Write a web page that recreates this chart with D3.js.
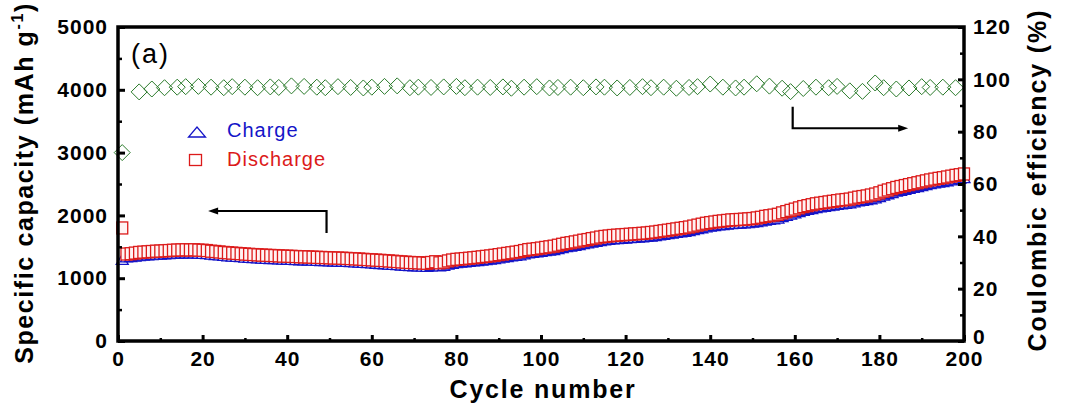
<!DOCTYPE html>
<html><head><meta charset="utf-8">
<script src="https://cdn.jsdelivr.net/npm/d3@7"></script>
<style>body{margin:0;background:#fff} svg{display:block}</style>
</head><body>
<svg id="c" width="1072" height="415"></svg>
<script>
// ---------- DATA ----------
const cycles = d3.range(1, 201);
const discharge = [
1800,1385,1390,1400,1410,1415,1420,1425,1430,1432,
1436,1440,1445,1448,1450,1452,1450,1452,1448,1445,
1440,1430,1425,1418,1410,1405,1400,1395,1390,1385,
1380,1376,1372,1368,1365,1362,1360,1356,1352,1350,
1348,1345,1342,1340,1338,1335,1332,1330,1328,1325,
1322,1320,1318,1315,1312,1308,1305,1300,1296,1292,
1288,1284,1280,1275,1270,1265,1260,1255,1250,1248,
1245,1242,1238,1250,1262,1245,1255,1275,1290,1300,
1305,1312,1318,1325,1332,1340,1348,1355,1365,1375,
1385,1395,1405,1415,1425,1440,1455,1462,1470,1480,
1490,1500,1510,1525,1540,1555,1565,1578,1590,1605,
1615,1630,1640,1655,1665,1672,1680,1685,1690,1695,
1700,1705,1710,1715,1720,1728,1735,1745,1755,1765,
1775,1785,1795,1805,1815,1830,1845,1860,1875,1885,
1895,1905,1912,1920,1928,1932,1935,1940,1945,1950,
1960,1970,1985,1995,2005,2018,2040,2060,2080,2100,
2120,2140,2155,2170,2185,2195,2205,2215,2225,2235,
2245,2252,2260,2275,2290,2300,2310,2325,2340,2360,
2385,2405,2425,2445,2460,2475,2490,2505,2520,2535,
2550,2565,2578,2590,2600,2612,2625,2638,2648,2660];
const charge = [
1300,1340,1342,1352,1360,1366,1370,1376,1380,1383,
1387,1391,1396,1399,1401,1403,1402,1403,1400,1396,
1392,1383,1377,1370,1362,1357,1352,1347,1342,1337,
1332,1328,1324,1320,1317,1314,1312,1308,1304,1302,
1300,1297,1294,1292,1290,1287,1284,1282,1280,1277,
1274,1272,1270,1267,1263,1259,1256,1251,1247,1243,
1238,1234,1230,1225,1220,1215,1210,1205,1200,1198,
1195,1192,1188,1198,1210,1195,1204,1223,1238,1250,
1255,1262,1268,1275,1282,1290,1298,1305,1314,1324,
1334,1344,1354,1364,1373,1388,1402,1410,1418,1428,
1438,1448,1457,1472,1487,1502,1512,1525,1536,1551,
1561,1576,1586,1600,1610,1617,1625,1630,1635,1640,
1645,1650,1655,1660,1665,1672,1680,1689,1699,1709,
1719,1729,1739,1748,1758,1773,1788,1803,1818,1828,
1838,1848,1855,1862,1870,1874,1877,1882,1887,1892,
1902,1912,1926,1936,1946,1958,1980,2000,2020,2040,
2060,2080,2095,2110,2125,2135,2145,2155,2165,2175,
2185,2192,2200,2215,2230,2240,2250,2265,2280,2300,
2325,2345,2365,2385,2400,2415,2430,2445,2460,2475,
2490,2505,2518,2530,2540,2552,2565,2578,2588,2600];
const ceCycles = [1,5,8,11,14,16,19,22,25,27,30,33,36,38,41,44,47,49,52,55,58,60,63,66,69,71,74,77,80,82,85,88,91,93,96,99,102,104,107,110,113,115,118,121,124,126,129,132,135,137,140,143,146,148,151,154,157,159,162,165,168,170,173,176,179,181,184,187,190,192,195,198];
const ceValues = [72,95.2,96.3,96.8,97.0,97.2,97.3,97.0,96.8,97.2,97.0,96.8,97.1,96.9,97.5,97.3,97.0,96.8,97.2,96.9,96.7,97.0,97.3,97.5,96.8,97.0,96.9,97.1,97.3,96.8,97.0,96.9,97.1,96.6,97.0,97.2,96.7,96.9,97.0,96.8,97.1,97.0,96.7,96.9,97.2,96.8,97.0,96.6,96.9,97.2,98.2,97.0,96.7,97.0,98.3,97.4,96.6,95.3,96.5,97.0,96.8,97.3,95.6,95.4,98.6,96.8,96.3,96.7,97.2,96.9,97.0,96.8];
const xTicks = [0,20,40,60,80,100,120,140,160,180,200];
const xMinor = [10,30,50,70,90,110,130,150,170,190];
const yLTicks = [0,1000,2000,3000,4000,5000];
const yLMinor = [500,1500,2500,3500,4500];
const yRTicks = [0,20,40,60,80,100,120];
const yRMinor = [10,30,50,70,90,110];
const legendItems = ["Charge","Discharge"];
// annotation arrows in data units
const arrowLeft = {x: 49.3, yFrom: 1720, yTo: 2070, xTip: 21.3};
const arrowRight = {x: 159.5, yFrom: 89.5, yTo: 81.3, xTip: 186.8};

// ---------- CHART ----------
const svg = d3.select("#c");
const font = "'Liberation Sans', Arial, Helvetica, sans-serif";
const x = d3.scaleLinear().domain([0,200]).range([118,964]);
const yL = d3.scaleLinear().domain([0,5000]).range([341,27]);
const yR = d3.scaleLinear().domain([0,120]).range([341,27]);
const blue = "#1414c8", red = "#dc1a1a", green = "#2a7a2a";

const triPath = (cx,cy,w,h) => `M${cx-w/2},${cy+h/2}L${cx+w/2},${cy+h/2}L${cx},${cy-h/2}Z`;
const diaPath = (cx,cy,r) => `M${cx},${cy-r}L${cx+r},${cy}L${cx},${cy+r}L${cx-r},${cy}Z`;

// charge triangles (under)
svg.append("g").selectAll("path").data(cycles).join("path")
  .attr("d",(c,i)=>triPath(x(c),yL(charge[i]),12,10))
  .attr("fill","#fff").attr("stroke",blue).attr("stroke-width",1.3);
// discharge squares
svg.append("g").selectAll("rect").data(cycles).join("rect")
  .attr("x",c=>x(c)-5.5).attr("y",(c,i)=>yL(discharge[i])-6)
  .attr("width",11).attr("height",12)
  .attr("fill","#fff3f3").attr("stroke",red).attr("stroke-width",1.3);
// CE diamonds
svg.append("g").selectAll("path").data(ceCycles).join("path")
  .attr("d",(c,i)=>diaPath(x(c),yR(ceValues[i]),8))
  .attr("fill","none").attr("stroke",green).attr("stroke-width",1);

// axes
const styleAxis = (g) => {
  g.select(".domain").remove();
  g.selectAll(".tick line").attr("stroke","#000").attr("stroke-width",3);
  g.selectAll("text").attr("font-family",font).attr("font-weight","bold")
   .attr("font-size",21).attr("fill","#000").attr("letter-spacing","1px");
};
const minorStyle = (g) => { g.select(".domain").remove(); g.selectAll(".tick line").attr("stroke","#000").attr("stroke-width",2.5); };

svg.append("g").attr("transform","translate(118,0)")
  .call(d3.axisLeft(yL).tickValues(yLTicks).tickFormat(d3.format("d")).tickSize(-7).tickPadding(10)).call(styleAxis);
svg.append("g").attr("transform","translate(118,0)")
  .call(d3.axisLeft(yL).tickValues(yLMinor).tickFormat("").tickSize(-4)).call(minorStyle);
const rAxis = svg.append("g").attr("transform","translate(964,0)")
  .call(d3.axisRight(yR).tickValues(yRTicks).tickFormat(d3.format("d")).tickSize(-6).tickPadding(9)).call(styleAxis);
rAxis.selectAll(".tick text").filter(d => d === 0).attr("dy","0.12em");
svg.append("g").attr("transform","translate(964,0)")
  .call(d3.axisRight(yR).tickValues(yRMinor).tickFormat("").tickSize(-4)).call(minorStyle);
svg.append("g").attr("transform","translate(0,341)")
  .call(d3.axisBottom(x).tickValues(xTicks).tickFormat(d3.format("d")).tickSize(-6).tickPadding(10)).call(styleAxis);
svg.append("g").attr("transform","translate(0,341)")
  .call(d3.axisBottom(x).tickValues(xMinor).tickFormat("").tickSize(-3)).call(minorStyle);

// frame
svg.append("rect").attr("x",x(0)).attr("y",yL(5000)).attr("width",x(200)-x(0)).attr("height",yL(0)-yL(5000))
  .attr("fill","none").attr("stroke","#000").attr("stroke-width",3.5);

// titles
svg.append("text").attr("x",(x(0)+x(200))/2+2).attr("y",398).attr("text-anchor","middle")
  .attr("font-family",font).attr("font-weight","bold").attr("font-size",25).attr("letter-spacing","1.8px")
  .text("Cycle number");
const lt = svg.append("text").attr("transform","translate(33,183) rotate(-90)").attr("text-anchor","middle")
  .attr("font-family",font).attr("font-weight","bold").attr("font-size",25).attr("letter-spacing","1.6px");
lt.append("tspan").text("Specific capacity (mAh g");
lt.append("tspan").attr("font-size",16).attr("dy",-10).text("-1");
lt.append("tspan").attr("dy",10).text(")");
svg.append("text").attr("transform","translate(1046,180) rotate(-90)").attr("text-anchor","middle")
  .attr("font-family",font).attr("font-weight","bold").attr("font-size",25).attr("letter-spacing","1.9px")
  .text("Coulombic efficiency (%)");

// panel label
svg.append("text").attr("x",131).attr("y",63).attr("font-family",font).attr("font-size",27)
  .attr("letter-spacing","2px").text("(a)");

// legend
svg.append("path").attr("d",triPath(197,132,17,10)).attr("fill","#fff").attr("stroke",blue).attr("stroke-width",1.3);
svg.append("rect").attr("x",189.5).attr("y",154.5).attr("width",12).attr("height",11).attr("fill","#fff").attr("stroke",red).attr("stroke-width",1.3);
svg.append("text").attr("x",227).attr("y",137).attr("font-family",font).attr("font-size",20).attr("letter-spacing","1px").attr("fill",blue).text(legendItems[0]);
svg.append("text").attr("x",227).attr("y",165.5).attr("font-family",font).attr("font-size",20).attr("letter-spacing","1px").attr("fill",red).text(legendItems[1]);

// arrows
function arrow(yScale, a){
  const xv = x(a.x), y0 = yScale(a.yFrom), y1 = yScale(a.yTo), xt = x(a.xTip);
  const dir = xt > xv ? 1 : -1;
  svg.append("path").attr("d",`M${xv},${y0}V${y1}H${xt - dir*8}`).attr("fill","none").attr("stroke","#000").attr("stroke-width",2.2);
  svg.append("path").attr("d",`M${xt},${y1}L${xt-dir*10},${y1-3.5}L${xt-dir*10},${y1+3.5}Z`).attr("fill","#000");
}
arrow(yL, arrowLeft);
arrow(yR, arrowRight);
</script>
</body></html>
